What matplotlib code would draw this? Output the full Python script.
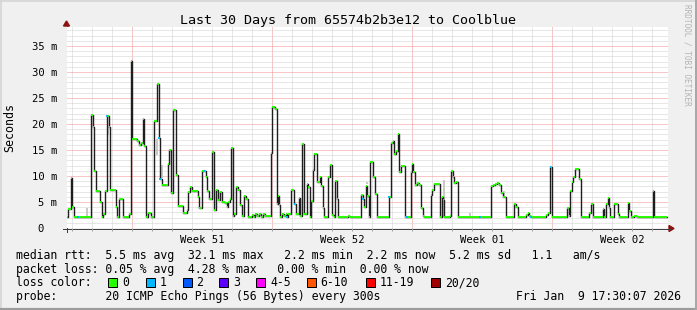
#!/usr/bin/env python
# -*- coding: utf-8 -*-
import numpy as np
import matplotlib
matplotlib.use('Agg')
import matplotlib.pyplot as plt
from matplotlib.patches import Rectangle, Polygon

TITLE = "Last 30 Days from 65574b2b3e12 to Coolblue"

# median rtt as steps: start of each step (days since Dec 10 17:30) and value (ms)
step_day = [0.00, 0.07, 0.20, 0.27, 0.35, 1.20, 1.30, 1.37, 1.45, 1.64,
            1.74, 1.82, 1.92, 2.00, 2.09, 2.17, 2.44, 2.52, 2.60, 2.82,
            3.12, 3.19, 3.27, 3.52, 3.60, 3.70, 3.79, 3.87, 3.95, 4.07,
            4.19, 4.35, 4.50, 4.59, 4.64, 4.74, 5.04, 5.10, 5.20, 5.32,
            5.45, 5.54, 5.82, 5.99, 6.07, 6.17, 6.27, 6.54, 6.62, 6.74,
            6.95, 7.02, 7.09, 7.27, 7.34, 7.44, 7.57, 7.65, 7.74, 7.90,
            8.00, 8.07, 8.13, 8.19, 8.29, 8.37, 8.47, 8.54, 8.64, 8.74,
            8.85, 8.94, 9.04, 9.27, 9.35, 9.40, 9.50, 9.60, 9.70, 9.80,
            9.90, 10.19, 10.25, 10.40, 10.49, 10.54, 10.59, 10.64, 10.74, 10.84,
            10.94, 11.00, 11.07, 11.20, 11.37, 11.44, 11.59, 11.67, 11.77, 11.84,
            12.00, 12.07, 12.14, 12.20, 12.29, 12.37, 12.50, 12.64, 12.70, 12.79,
            12.87, 13.05, 13.14, 13.24, 13.34, 13.40, 13.49, 13.57, 14.07, 14.17,
            14.70, 14.79, 14.85, 14.94, 15.02, 15.09, 15.17, 15.32, 15.40, 15.49,
            16.10, 16.20, 16.30, 16.37, 16.45, 16.54, 16.62, 16.70, 16.90, 17.20,
            17.27, 17.32, 17.40, 17.49, 17.60, 17.70, 17.79, 17.87, 18.19, 18.27,
            18.35, 18.64, 18.74, 18.80, 18.87, 19.14, 19.20, 19.29, 19.37, 19.47,
            19.55, 21.20, 21.30, 21.40, 21.50, 21.60, 21.70, 21.79, 21.94, 22.34,
            22.44, 22.54, 22.95, 23.04, 23.12, 23.20, 23.95, 24.07, 24.17, 24.27,
            25.02, 25.09, 25.17, 25.24, 25.32, 25.40, 25.52, 25.60, 25.70, 26.10,
            26.20, 26.30, 26.79, 26.87, 26.95, 27.04, 27.09, 27.17, 27.34, 27.57,
            27.62, 28.04, 28.12, 28.20, 28.34, 28.52, 29.29, 29.34]
step_ms = [2.1, 3.6, 9.7, 4.1, 2.1, 21.7, 19.4, 11.0, 7.2, 5.0,
           2.2, 2.6, 7.2, 21.5, 19.4, 7.4, 4.1, 2.1, 5.6, 2.1,
           2.7, 32.1, 17.1, 16.7, 16.0, 16.3, 20.9, 15.8, 2.1, 2.8,
           2.1, 20.6, 27.6, 17.4, 9.4, 8.2, 12.4, 15.0, 6.7, 22.7,
           10.2, 4.2, 2.8, 3.5, 7.0, 7.9, 7.2, 5.9, 3.9, 11.0,
           9.9, 7.2, 5.5, 14.7, 3.5, 7.4, 5.4, 7.0, 5.0, 4.9,
           4.0, 5.0, 5.6, 15.3, 2.4, 2.7, 7.8, 7.4, 4.4, 2.4,
           6.1, 5.5, 2.1, 2.5, 2.1, 2.6, 2.3, 2.7, 2.2, 2.7,
           2.3, 14.4, 23.3, 22.8, 4.7, 6.1, 4.4, 2.1, 2.7, 2.4,
           2.6, 2.1, 2.6, 7.3, 4.7, 2.7, 5.8, 2.4, 16.1, 2.7,
           8.5, 7.9, 2.1, 5.1, 11.2, 14.3, 8.9, 9.9, 8.1, 3.8,
           2.1, 9.9, 12.1, 2.5, 2.1, 9.1, 5.6, 2.1, 2.3, 2.1,
           6.3, 5.5, 4.1, 8.1, 6.2, 2.1, 12.6, 9.8, 6.5, 2.1,
           6.0, 16.4, 16.7, 14.3, 14.9, 18.0, 10.8, 11.9, 2.1, 10.8,
           12.4, 10.8, 8.3, 8.7, 8.2, 3.9, 2.4, 2.1, 6.3, 7.4,
           8.5, 2.1, 6.0, 5.4, 2.1, 2.4, 11.0, 9.9, 8.6, 8.8,
           2.1, 8.0, 8.2, 8.5, 8.6, 8.3, 6.7, 6.0, 2.1, 4.7,
           4.0, 2.1, 2.5, 2.9, 2.3, 2.1, 2.5, 2.9, 11.8, 2.1,
           3.8, 2.4, 7.1, 8.8, 9.9, 11.3, 11.4, 9.4, 2.1, 2.8,
           4.6, 2.1, 3.7, 2.1, 4.7, 5.8, 3.9, 2.1, 4.7, 2.7,
           2.1, 4.9, 3.2, 2.1, 2.3, 2.1, 7.2, 2.1]
span_end = 30.0

# samples where 1 of 20 pings was lost
loss1_day = [0.55, 2.00, 4.59, 4.64, 6.87, 11.00, 11.37, 14.79, 16.10, 16.99, 20.65, 23.20, 24.17]
loss1_ms = [2.1, 21.5, 17.4, 9.4, 11.0, 2.1, 4.7, 5.5, 6.0, 2.1, 2.1, 2.1, 11.8]

# bits of smoke (ping spread) that show next to the median
smoke_day = [0.98, 2.07, 4.48, 4.74, 14.98, 18.83, 20.15, 21.87]
smoke_lo = [2.1, 17.9, 14.0, 9.6, 8.4, 2.2, 2.3, 6.0]
smoke_hi = [3.9, 19.5, 17.2, 12.1, 8.9, 9.2, 2.8, 7.1]

week_labels = ["Week 51", "Week 52", "Week 01", "Week 02"]
ytick_ms = [0, 5, 10, 15, 20, 25, 30, 35]
ytick_labels = ["0  ", "5 m", "10 m", "15 m", "20 m", "25 m", "30 m", "35 m"]

loss_labels = ["0", "1", "2", "3", "4-5", "6-10", "11-19", "20/20"]
loss_colors = ["#26ff00", "#00b8ff", "#0059ff", "#5e00ff",
               "#ff00ff", "#ff5500", "#ff0000", "#a10000"]

legend_rtt = "median rtt:  5.5 ms avg  32.1 ms max   2.2 ms min  2.2 ms now  5.2 ms sd   1.1   am/s"
legend_loss = "packet loss: 0.05 % avg  4.28 % max   0.00 % min  0.00 % now"
legend_probe = "probe:       20 ICMP Echo Pings (56 Bytes) every 300s"
stamp = "Fri Jan  9 17:30:07 2026"

MONO = "DejaVu Sans Mono"
PX = 0.72  # one pixel in points at 100 dpi

# plot box in pixels (left, top, right, bottom)
L, T, R, B = 67, 27, 668, 228
PX_PER_DAY = 20.0
PX_PER_MS = 5.2
FIRST_MIDNIGHT = 0.26


def main():
    fig = plt.figure(figsize=(6.97, 3.10), dpi=100)
    fig.patch.set_facecolor("#F0F0F0")

    # pixel canvas for frame, texts and legend
    bg = fig.add_axes([0, 0, 1, 1])
    bg.set_xlim(0, 697)
    bg.set_ylim(310, 0)
    bg.axis("off")

    ax = fig.add_axes([L / 697.0, (310 - B) / 310.0, (R - L) / 697.0, (B - T) / 310.0])
    ax.set_facecolor("white")
    ax.set_xlim(0, (R - L) / PX_PER_DAY)
    ax.set_ylim(0, (B - T) / PX_PER_MS)
    for s in ax.spines.values():
        s.set_visible(False)

    # grid: dotted gray minor, dotted red major
    dots = (0, (1, 1))
    days = [FIRST_MIDNIGHT + k for k in range(30)]
    for i, d in enumerate(days):
        major = (i % 7 == 3)
        ax.axvline(d, color="#F09090" if major else "#D0D0D0", lw=PX, ls=dots, zorder=1)
    for v in range(1, 39):
        ax.axhline(v, color="#F09090" if v % 5 == 0 else "#D0D0D0", lw=PX, ls=dots, zorder=1)

    # smoke
    ax.vlines(smoke_day, smoke_lo, smoke_hi, colors="#C8C8C8", lw=2 * PX, zorder=2)

    # median: dark step line, green horizontal runs on top
    xd = np.array(step_day + [span_end])
    yd = np.array(step_ms + [step_ms[-1]])
    ax.step(xd, yd, where="post", color="#1E1E1E", lw=1.4 * PX, zorder=3)
    ax.hlines(step_ms, xd[:-1], xd[1:], colors=loss_colors[0], lw=1.9 * PX, zorder=4)
    l1 = np.array(loss1_day)
    ax.hlines(loss1_ms, l1 - 0.04, l1 + 0.04, colors=loss_colors[1], lw=1.9 * PX, zorder=5)

    # ticks and labels
    ax.set_yticks(ytick_ms)
    ax.set_yticklabels(ytick_labels, family=MONO, fontsize=7.6)
    ax.tick_params(axis="y", length=0, pad=7)
    week_mid = [FIRST_MIDNIGHT + 3 + 7 * k + 3.5 for k in range(4)]
    ax.set_xticks(week_mid)
    ax.set_xticklabels(week_labels, family=MONO, fontsize=7.6)
    ax.tick_params(axis="x", length=0, pad=5)
    ax.set_xticks(days, minor=True)
    ax.tick_params(axis="x", which="minor", length=2, width=PX, color="#A0A0A0")

    # axes with arrows
    ax_col = "#404040"
    bg.plot([L - 4, R + 2], [B + 0.5, B + 0.5], color=ax_col, lw=PX)
    bg.plot([L - 0.5, L - 0.5], [B + 4, T - 4], color=ax_col, lw=PX)
    arrow_col = "#8B1010"
    bg.add_patch(Polygon([[L - 3.5, T - 1], [L + 2.5, T - 1], [L - 0.5, T - 6]],
                         closed=True, color=arrow_col))
    bg.add_patch(Polygon([[R + 1, B - 2.5], [R + 1, B + 3.5], [R + 6, B + 0.5]],
                         closed=True, color=arrow_col))

    # title, y label, watermark
    bg.text(348, 24, TITLE, family=MONO, fontsize=9.6, ha="center", va="baseline")
    bg.text(10, 127, "Seconds", family=MONO, fontsize=8.4, rotation=90,
            ha="center", va="center")
    bg.text(687, 4, "RRDTOOL / TOBI OETIKER", family=MONO, fontsize=5.6,
            color="#B4B4B4", rotation=270, ha="center", va="top")

    # legend
    fs = 8.3
    bg.text(16, 259, legend_rtt, family=MONO, fontsize=fs, va="baseline")
    bg.text(16, 272.5, legend_loss, family=MONO, fontsize=fs, va="baseline")
    bg.text(16, 286, "loss color:", family=MONO, fontsize=fs, va="baseline")
    box_x = [108, 145.5, 182.5, 219, 256, 306.5, 365.5, 431]
    for bx, lab, col in zip(box_x, loss_labels, loss_colors):
        bg.add_patch(Rectangle((bx, 277.5), 9, 9, facecolor=col,
                               edgecolor="black", lw=PX))
        bg.text(bx + 14, 286, lab, family=MONO, fontsize=fs, va="baseline")
    bg.text(16, 300, legend_probe, family=MONO, fontsize=fs, va="baseline")
    bg.text(681, 300, stamp, family=MONO, fontsize=fs, va="baseline", ha="right")

    # 3d frame
    bg.plot([0, 697], [0.8, 0.8], color="#D4D4D4", lw=1.6 * PX)
    bg.plot([0.8, 0.8], [0, 310], color="#D4D4D4", lw=1.6 * PX)
    bg.plot([0, 697], [309, 309], color="#9C9C9C", lw=2.2 * PX)
    bg.plot([696, 696], [0, 310], color="#A8A8A8", lw=2.0 * PX)

    fig.savefig("out.png", dpi=100, facecolor=fig.get_facecolor())


if __name__ == "__main__":
    main()
